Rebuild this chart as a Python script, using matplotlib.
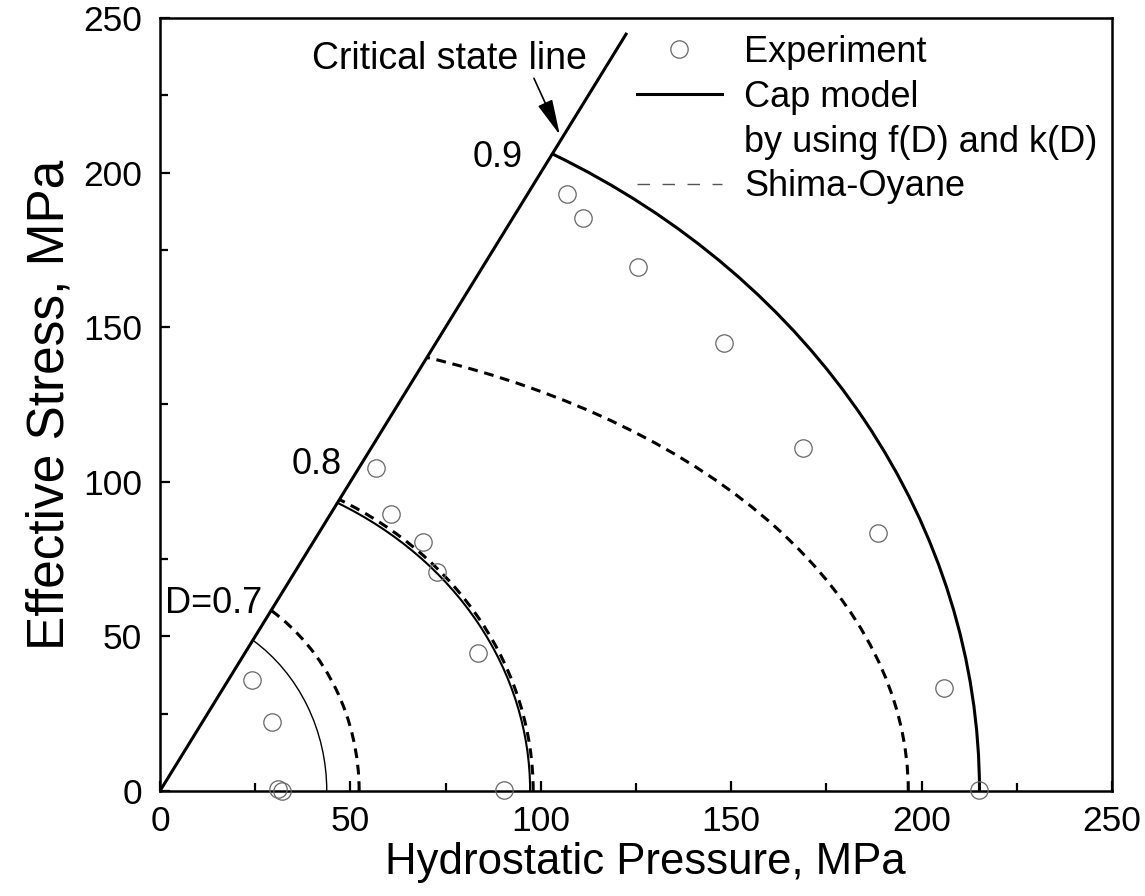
import numpy as np
import matplotlib.pyplot as plt
from matplotlib.patches import Arc
from matplotlib.lines import Line2D

plt.rcParams['font.family'] = ['Liberation Sans', 'DejaVu Sans']

# relative density of each yield surface
densities = [0.7, 0.8, 0.9]
density_labels = ["D=0.7", "0.8", "0.9"]
label_pos = [(26.8, 60.5), (47.7, 105.7), (95.3, 205.0)]

# cap model: intercepts on the pressure and stress axes
cap_p0 = [43.8, 97.2, 215.2]
cap_q0 = [58.7, 106.2, 234.7]
cap_lw = [1.0, 1.5, 2.2]

# Shima-Oyane yield surfaces
so_p0 = [52.3, 98.0, 196.5]
so_q0 = [70.4, 107.5, 150.1]

# critical state line
csl_p = [0.0, 122.6]
csl_q = [0.0, 245.2]

# experimental points
exp_p = [24.2, 29.5, 31.0, 32.0, 56.7, 60.6, 69.1, 72.8, 83.6, 90.4,
         106.8, 111.2, 125.5, 148.1, 168.9, 188.6, 206.0, 215.2]
exp_q = [35.9, 22.4, 0.6, 0.0, 104.4, 89.6, 80.6, 70.9, 44.5, 0.3,
         193.0, 185.2, 169.6, 144.8, 110.8, 83.3, 33.2, 0.4]

fig = plt.figure(figsize=(11.45, 8.96), dpi=100)
ax = fig.add_axes([0.1397, 0.1172, 0.8315, 0.8627])

csl_angle = np.degrees(np.arctan2(csl_q[1], csl_p[1]))
ax.plot(csl_p, csl_q, color='k', lw=2.2, solid_capstyle='butt')

for a, b, lw in zip(cap_p0, cap_q0, cap_lw):
    ax.add_patch(Arc((0, 0), 2 * a, 2 * b, theta1=0, theta2=csl_angle,
                     color='k', lw=lw))

for a, b in zip(so_p0, so_q0):
    ax.add_patch(Arc((0, 0), 2 * a, 2 * b, theta1=0, theta2=csl_angle,
                     color='k', lw=2.2, linestyle=(0, (3.2, 2.2))))

ax.plot(exp_p, exp_q, 'o', ms=12.5, mfc='none', mec='#666666', mew=0.9,
        clip_on=False, zorder=5)

for txt, (x, y) in zip(density_labels, label_pos):
    ax.text(x, y, txt, fontsize=26, ha='right', va='center')

ax.annotate("", xy=(105.0, 212.2), xytext=(98.2, 230.5),
            arrowprops=dict(arrowstyle='-|>,head_length=1.0,head_width=0.22',
                            color='k', lw=1.2, mutation_scale=22,
                            shrinkA=0, shrinkB=0))
ax.text(75.9, 236.9, "Critical state line", fontsize=27, ha='center', va='center')

handles = [
    Line2D([], [], ls='none', marker='o', ms=12.5, mfc='none', mec='#666666', mew=0.9),
    Line2D([], [], color='k', lw=2.2),
    Line2D([], [], ls='none'),
    Line2D([], [], color='#555555', lw=1.0, ls=(0, (9, 9))),
]
labels = ["Experiment", "Cap model", "by using f(D) and k(D)", "Shima-Oyane"]
ax.legend(handles, labels, loc='upper left', bbox_to_anchor=(0.5007, 0.978),
          frameon=False, fontsize=26, handlelength=2.35, handletextpad=0.62,
          labelspacing=0.27, borderpad=0, borderaxespad=0)

ax.set_xlim(0, 250)
ax.set_ylim(0, 250)
ax.set_xticks(np.arange(0, 251, 50))
ax.set_yticks(np.arange(0, 251, 50))
ax.set_xticks(np.arange(25, 250, 50), minor=True)
ax.set_yticks(np.arange(25, 250, 50), minor=True)
ax.tick_params(which='both', direction='in', top=False, right=False,
               labelsize=25.5, width=1.6)
ax.tick_params(which='major', length=7)
ax.tick_params(which='minor', length=6)
ax.tick_params(axis='x', which='major', pad=10)
ax.tick_params(axis='y', which='major', pad=13)
for s in ax.spines.values():
    s.set_linewidth(1.8)

ax.set_xlabel("Hydrostatic Pressure, MPa", fontsize=31.5, labelpad=3)
ax.xaxis.label.set_x(0.51)
ax.set_ylabel("Effective Stress, MPa", fontsize=37, labelpad=6)

fig.savefig("out.png", dpi=100)
